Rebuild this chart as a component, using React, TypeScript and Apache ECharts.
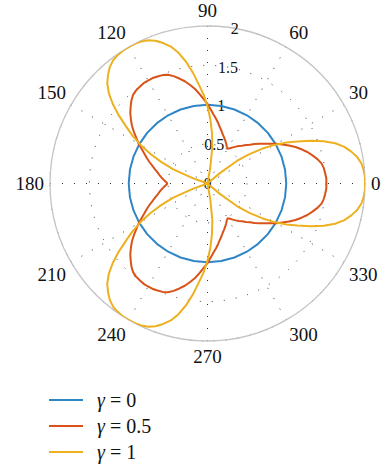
import React, { useEffect, useRef } from 'react';
import * as echarts from 'echarts';

const FONT = 'Liberation Serif, DejaVu Serif, serif';

const seriesNames = ['γ = 0', 'γ = 0.5', 'γ = 1'];
const seriesColors = ['#2f86c6', '#d95319', '#edb120'];

const angleTicks = [0, 30, 60, 90, 120, 150, 180, 210, 240, 270, 300, 330];
const radiusTicks = [0, 0.5, 1, 1.5, 2];

// angles (degrees) for the γ = 0 circle
const circleAngles = [
  0, 10, 20, 30, 40, 50, 60, 70, 80, 90, 100, 110, 120, 130, 140, 150, 160, 170,
  180, 190, 200, 210, 220, 230, 240, 250, 260, 270, 280, 290, 300, 310, 320, 330,
  340, 350, 360,
];
const gamma0 = [
  1, 1, 1, 1, 1, 1, 1, 1, 1, 1, 1, 1, 1, 1, 1, 1, 1, 1,
  1, 1, 1, 1, 1, 1, 1, 1, 1, 1, 1, 1, 1, 1, 1, 1,
  1, 1, 1,
];

// angles (degrees) for the γ = 0.5 and γ = 1 curves
const angles = [
  0, 2.5, 5, 7.5, 10, 12.5, 15, 17.5, 20, 22.5, 25, 27.5, 30, 32.5, 35, 37.5, 40, 42.5, 45, 47.5,
  50, 52.5, 55, 57.5, 60, 62.5, 65, 67.5, 70, 72.5, 75, 77.5, 80, 82.5, 85, 87.5, 90, 92.5, 95, 97.5,
  100, 102.5, 105, 107.5, 110, 112.5, 115, 117.5, 120, 122.5, 125, 127.5, 130, 132.5, 135, 137.5,
  140, 142.5, 145, 147.5, 150, 152.5, 155, 157.5, 160, 162.5, 165, 167.5, 170, 172.5, 175, 177.5,
  180, 182.5, 185, 187.5, 190, 192.5, 195, 197.5, 200, 202.5, 205, 207.5, 210, 212.5, 215, 217.5,
  220, 222.5, 225, 227.5, 230, 232.5, 235, 237.5, 240, 242.5, 245, 247.5, 250, 252.5, 255, 257.5,
  260, 262.5, 265, 267.5, 270, 272.5, 275, 277.5, 280, 282.5, 285, 287.5, 290, 292.5, 295, 297.5,
  300, 302.5, 305, 307.5, 310, 312.5, 315, 317.5, 320, 322.5, 325, 327.5, 330, 332.5, 335, 337.5,
  340, 342.5, 345, 347.5, 350, 352.5, 355, 357.5, 360,
];

const gamma05 = [
  1.51, 1.51, 1.50, 1.49, 1.47, 1.43, 1.38, 1.33, 1.27, 1.21, 1.14, 1.07, 1.01, 0.94, 0.88, 0.83,
  0.78, 0.73, 0.69, 0.65, 0.62, 0.59, 0.56, 0.53, 0.51, 0.53, 0.56, 0.59, 0.62, 0.65, 0.69, 0.73,
  0.78, 0.83, 0.88, 0.94, 1.01, 1.07, 1.14, 1.21, 1.27, 1.33, 1.38, 1.43, 1.47, 1.49, 1.50, 1.51,
  1.51, 1.51, 1.50, 1.49, 1.47, 1.43, 1.38, 1.33, 1.27, 1.21, 1.14, 1.07, 1.01, 0.94, 0.88, 0.83,
  0.78, 0.73, 0.69, 0.65, 0.62, 0.59, 0.56, 0.53, 0.51, 0.53, 0.56, 0.59, 0.62, 0.65, 0.69, 0.73,
  0.78, 0.83, 0.88, 0.94, 1.01, 1.07, 1.14, 1.21, 1.27, 1.33, 1.38, 1.43, 1.47, 1.49, 1.50, 1.51,
  1.51, 1.51, 1.50, 1.49, 1.47, 1.43, 1.38, 1.33, 1.27, 1.21, 1.14, 1.07, 1.01, 0.94, 0.88, 0.83,
  0.78, 0.73, 0.69, 0.65, 0.62, 0.59, 0.56, 0.53, 0.51, 0.53, 0.56, 0.59, 0.62, 0.65, 0.69, 0.73,
  0.78, 0.83, 0.88, 0.94, 1.01, 1.07, 1.14, 1.21, 1.27, 1.33, 1.38, 1.43, 1.47, 1.49, 1.50, 1.51,
  1.51,
];

const gamma1 = [
  2.00, 2.00, 1.99, 1.97, 1.93, 1.87, 1.80, 1.70, 1.57, 1.42, 1.26, 1.13, 0.98, 0.82, 0.65, 0.47,
  0.20, 0, 0, 0, 0, 0, 0, 0, 0, 0, 0, 0, 0, 0, 0, 0,
  0.20, 0.47, 0.65, 0.82, 0.98, 1.13, 1.26, 1.42, 1.57, 1.70, 1.80, 1.87, 1.93, 1.97, 1.99, 2.00,
  2.00, 2.00, 1.99, 1.97, 1.93, 1.87, 1.80, 1.70, 1.57, 1.42, 1.26, 1.13, 0.98, 0.82, 0.65, 0.47,
  0.20, 0, 0, 0, 0, 0, 0, 0, 0, 0, 0, 0, 0, 0, 0, 0,
  0.20, 0.47, 0.65, 0.82, 0.98, 1.13, 1.26, 1.42, 1.57, 1.70, 1.80, 1.87, 1.93, 1.97, 1.99, 2.00,
  2.00, 2.00, 1.99, 1.97, 1.93, 1.87, 1.80, 1.70, 1.57, 1.42, 1.26, 1.13, 0.98, 0.82, 0.65, 0.47,
  0.20, 0, 0, 0, 0, 0, 0, 0, 0, 0, 0, 0, 0, 0, 0, 0,
  0.20, 0.47, 0.65, 0.82, 0.98, 1.13, 1.26, 1.42, 1.57, 1.70, 1.80, 1.87, 1.93, 1.97, 1.99, 2.00,
  2.00,
];

const zip = (r: number[], a: number[]) => r.map((v, i) => [v, a[i]]);

export default function App() {
  const ref = useRef<HTMLDivElement>(null);

  useEffect(() => {
    if (!ref.current) return;
    const chart = echarts.init(ref.current, undefined, { renderer: 'svg' });
    const dotted = { type: [1, 11] as any, color: '#333', width: 1 };
    const center = [207.5, 183.5];
    const radius = 157.5;

    const seriesData = [zip(gamma0, circleAngles), zip(gamma05, angles), zip(gamma1, angles)];

    chart.setOption({
      animation: false,
      polar: [
        { center, radius },
        { center, radius },
      ],
      angleAxis: [
        {
          polarIndex: 0,
          type: 'value',
          min: 0,
          max: 360,
          interval: 30,
          startAngle: 0,
          clockwise: false,
          axisLine: { lineStyle: { color: '#c4c4c4', width: 1.3 } },
          axisTick: { show: false },
          axisLabel: {
            margin: 6,
            color: '#111',
            fontFamily: FONT,
            fontSize: 19,
            lineHeight: 19,
            formatter: (v: number) => (angleTicks.includes(v) ? String(v) : ''),
          },
          splitLine: { lineStyle: dotted },
        },
        {
          polarIndex: 1,
          type: 'value',
          min: 0,
          max: 360,
          startAngle: 80,
          clockwise: false,
          show: false,
        },
      ],
      radiusAxis: [
        {
          polarIndex: 0,
          type: 'value',
          min: 0,
          max: 2,
          interval: 0.5,
          axisLine: { show: false },
          axisTick: { show: false },
          axisLabel: { show: false },
          splitLine: { lineStyle: dotted },
        },
        {
          polarIndex: 1,
          type: 'value',
          min: 0,
          max: 2,
          interval: 0.5,
          axisLine: { show: false },
          axisTick: { show: false },
          splitLine: { show: false },
          axisLabel: {
            margin: 0,
            align: 'center',
            verticalAlign: 'middle',
            fontFamily: FONT,
            fontSize: 16,
            color: '#111',
            padding: [7, 0, 0, 0],
            formatter: (v: number) => (radiusTicks.includes(v) ? String(v) : ''),
          },
        },
      ],
      legend: {
        orient: 'vertical',
        left: 44,
        top: 385,
        height: 80,
        itemWidth: 34,
        itemHeight: 2,
        itemGap: 6,
        icon: 'rect',
        data: seriesNames,
        formatter: (name: string) => '{i|γ}' + name.slice(1),
        textStyle: {
          fontFamily: FONT,
          fontSize: 20,
          color: '#111',
          lineHeight: 20,
          padding: [0, 0, 0, 9],
          rich: {
            i: { fontStyle: 'italic', fontFamily: FONT, fontSize: 20, color: '#111', lineHeight: 20 },
          },
        },
      },
      series: seriesNames.map((name, i) => ({
        type: 'line',
        name,
        coordinateSystem: 'polar',
        polarIndex: 0,
        data: seriesData[i],
        symbol: 'none',
        showSymbol: false,
        lineStyle: { width: 2, color: seriesColors[i] },
        itemStyle: { color: seriesColors[i] },
      })),
    });
    return () => chart.dispose();
  }, []);

  return (
    <div
      ref={ref}
      style={{ position: 'fixed', left: 0, top: 0, width: 385, height: 466, background: '#fff' }}
    />
  );
}
